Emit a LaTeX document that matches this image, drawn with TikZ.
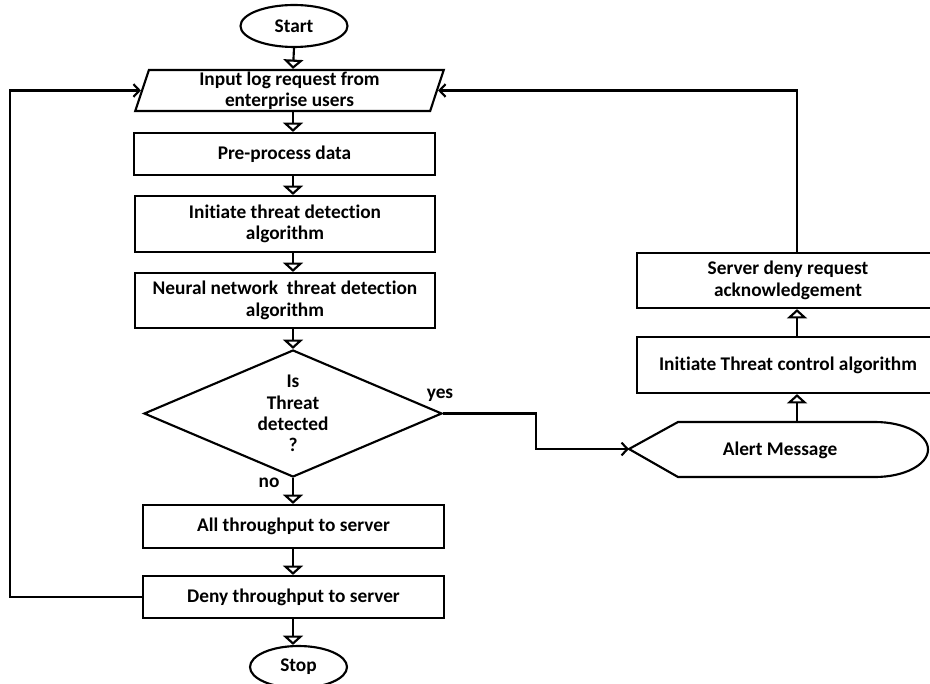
\documentclass[tikz,border=0pt]{standalone}
\usepackage{fontspec}
\setmainfont{Carlito}[Ligatures=NoCommon]
\usetikzlibrary{shapes.geometric,arrows.meta}

\begin{document}
\begin{tikzpicture}[x=0.75pt,y=-0.75pt,line width=1.6pt,
  font=\bfseries\fontsize{14.5pt}{16pt}\selectfont,
  base/.style={draw,inner sep=0pt,align=center},
  procbox/.style={base,rectangle},
  term/.style={base,ellipse},
  flow/.style={-{Triangle[open,width=15pt,length=7pt]}},
  back/.style={-{Straight Barb[length=4.5pt,width=9.5pt]}},
  lbl/.style={inner sep=0pt}]
\clip (0,0) rectangle (930,684);

% main column
\node[term,minimum width=80.25pt,minimum height=31.5pt] (start) at (294,26) {Start};
\node[base,trapezium,trapezium left angle=77,trapezium right angle=103,
      trapezium stretches=true,minimum width=231.75pt,minimum height=30.75pt]
      (in) at (289.5,90.5) {Input log request from\\enterprise users};
\node[procbox,minimum width=225.75pt,minimum height=31.5pt] (pre) at (284.5,154) {Pre-process data};
\node[procbox,minimum width=225pt,minimum height=42pt] (det) at (285,224) {Initiate threat detection\\algorithm};
\node[procbox,minimum width=225pt,minimum height=41.25pt] (nn) at (285,300.5) {Neural network\ \ threat detection\\algorithm};
\node[base,diamond,aspect=2.35,minimum width=223.5pt,minimum height=95.25pt] (dec) at (293,413.5) {Is\\Threat\\detected\\?};
\node[procbox,minimum width=225.75pt,minimum height=32.25pt] (all) at (293.5,526.5) {All throughput to server};
\node[procbox,minimum width=225.75pt,minimum height=31.5pt] (deny) at (293.5,597) {Deny throughput to server};
\node[term,minimum width=72.75pt,minimum height=31.5pt] (stop) at (298.5,667) {Stop};

% right column
\node[procbox,minimum width=226.5pt,minimum height=41.25pt] (srv) at (788,280.5) {Server deny request\\acknowledgement};
\node[procbox,minimum width=226.5pt,minimum height=42pt] (ctl) at (788,365) {Initiate Threat control algorithm};

% display shape for the alert
\draw (629,449) -- (678,422) -- (875,422)
  arc[start angle=90,end angle=-90,x radius=39.75pt,y radius=20.625pt]
  -- (678,477) -- cycle;
\node[lbl] (alert) at (780,450) {Alert Message};
\coordinate (alertL) at (629,449);
\coordinate (alertT) at (797,422);

% helper coordinates for connector routing
\coordinate (spine) at (293,0);
\coordinate (lft) at (10,0);
\coordinate (bend) at (536,0);

% main flow
\draw[flow] (start.south) -- (spine |- in.north);
\draw[flow] (spine |- in.south) -- (spine |- pre.north);
\draw[flow] (spine |- pre.south) -- (spine |- det.north);
\draw[flow] (spine |- det.south) -- (spine |- nn.north);
\draw[flow] (spine |- nn.south) -- (dec.north);
\draw[flow] (dec.south) -- (spine |- all.north);
\draw[flow] (spine |- all.south) -- (spine |- deny.north);
\draw[flow] (spine |- deny.south) -- (spine |- stop.north);

% yes branch
\draw[back] (dec.east) -| (bend |- alertL) -- (alertL);
\draw[flow] (alertT) -- (alertT |- ctl.south);
\draw[flow] (alertT |- ctl.north) -- (alertT |- srv.south);

% loops back to the input
\draw[back] (deny.west) -- (deny.west -| lft) -- (lft |- in.west) -- (in.west);
\draw[back] (alertT |- srv.north) -- (alertT |- in.east) -- (in.east);

% branch labels
\node[lbl] (yes) at (440,395) {yes};
\node[lbl] (no) at (269,483) {no};
\end{tikzpicture}
\end{document}
